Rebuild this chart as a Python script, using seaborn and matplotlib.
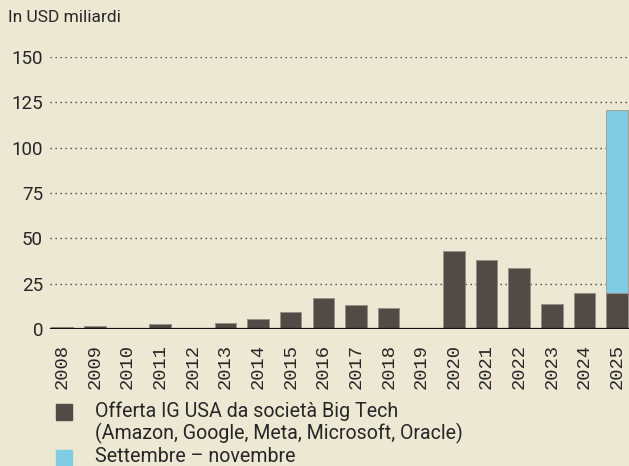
import pandas as pd
import numpy as np
import matplotlib
matplotlib.use("Agg")
import matplotlib.pyplot as plt
from matplotlib.patches import Rectangle
import seaborn as sns

# -----------------------------
# 1. Data (USD bn)
# -----------------------------
years = [str(y) for y in range(2008, 2026)]
big_tech = [1.1, 1.7, 0.5, 2.8, 0.5, 3.1, 5.5, 9.4, 16.9, 13.2,
            11.7, 0.0, 43.0, 38.0, 33.4, 13.6, 19.8, 19.8]
sep_nov = [0, 0, 0, 0, 0, 0, 0, 0, 0, 0,
           0, 0, 0, 0, 0, 0, 0, 100.9]
y_ticks = [0, 25, 50, 75, 100, 125, 150]

unit_label = "In USD miliardi"
legend_dark = "Offerta IG USA da società Big Tech\n(Amazon, Google, Meta, Microsoft, Oracle)"
legend_blue = "Settembre – novembre"

df = pd.DataFrame({"Year": years, "BigTech": big_tech, "SepNov": sep_nov})
df["Total"] = df["BigTech"] + df["SepNov"]

# -----------------------------
# 2. Style
# -----------------------------
bg = "#ede8d3"
dark = "#524a45"
blue = "#80cde3"
txt = "#262626"

sns.set_theme(style="white")
plt.rcParams["font.family"] = ["Roboto", "DejaVu Sans"]

fig = plt.figure(figsize=(6.29, 4.66), dpi=100, facecolor=bg)
ax = fig.add_axes([50 / 629, 137 / 466, 579 / 629, 272 / 466])
ax.set_facecolor(bg)

# -----------------------------
# 3. Bars (stacked: total in blue, Big Tech on top in dark)
# -----------------------------
sns.barplot(data=df, x="Year", y="Total", color=blue, saturation=1,
            width=0.66, ax=ax, zorder=2, edgecolor="#9c968d", linewidth=0.6)
sns.barplot(data=df, x="Year", y="BigTech", color=dark, saturation=1,
            width=0.66, ax=ax, zorder=3, edgecolor="#9c968d", linewidth=0.6)

ax.set_xlim(-0.37, 17.36)
ax.set_ylim(0, 150)
ax.set_yticks(y_ticks)
ax.set_xticks(range(len(years)), years, rotation=90,
              fontfamily=["Liberation Mono", "DejaVu Sans Mono"], fontsize=13.5)
ax.set_xlabel("")
ax.set_ylabel("")

for v in y_ticks[1:]:
    ax.axhline(v, color="#444444", lw=1.0, ls=(0, (1, 2.6)), zorder=1)
ax.axhline(0, color="#111111", lw=1.6, zorder=4)

for s in ax.spines.values():
    s.set_visible(False)

ax.tick_params(axis="y", length=0, pad=5, labelsize=13.5, labelcolor=txt)
ax.tick_params(axis="x", length=0, pad=11, labelcolor=txt)

# -----------------------------
# 4. Unit label and legend
# -----------------------------
fig.text(8 / 629, 1 - 10 / 466, unit_label, ha="left", va="top",
         fontsize=12.5, color=txt)

fig.patches.append(Rectangle((56 / 629, 1 - 420 / 466), 16 / 629, 16 / 466,
                             transform=fig.transFigure, color=dark))
fig.patches.append(Rectangle((56 / 629, 1 - 467 / 466), 16 / 629, 17 / 466,
                             transform=fig.transFigure, color=blue))
fig.text(95 / 629, 1 - 401 / 466, legend_dark, ha="left", va="top",
         fontsize=14.1, color=txt, linespacing=1.12)
fig.text(95 / 629, 1 - 447 / 466, legend_blue, ha="left", va="top",
         fontsize=14.1, color=txt)

fig.savefig("out.png", dpi=100, facecolor=bg)
